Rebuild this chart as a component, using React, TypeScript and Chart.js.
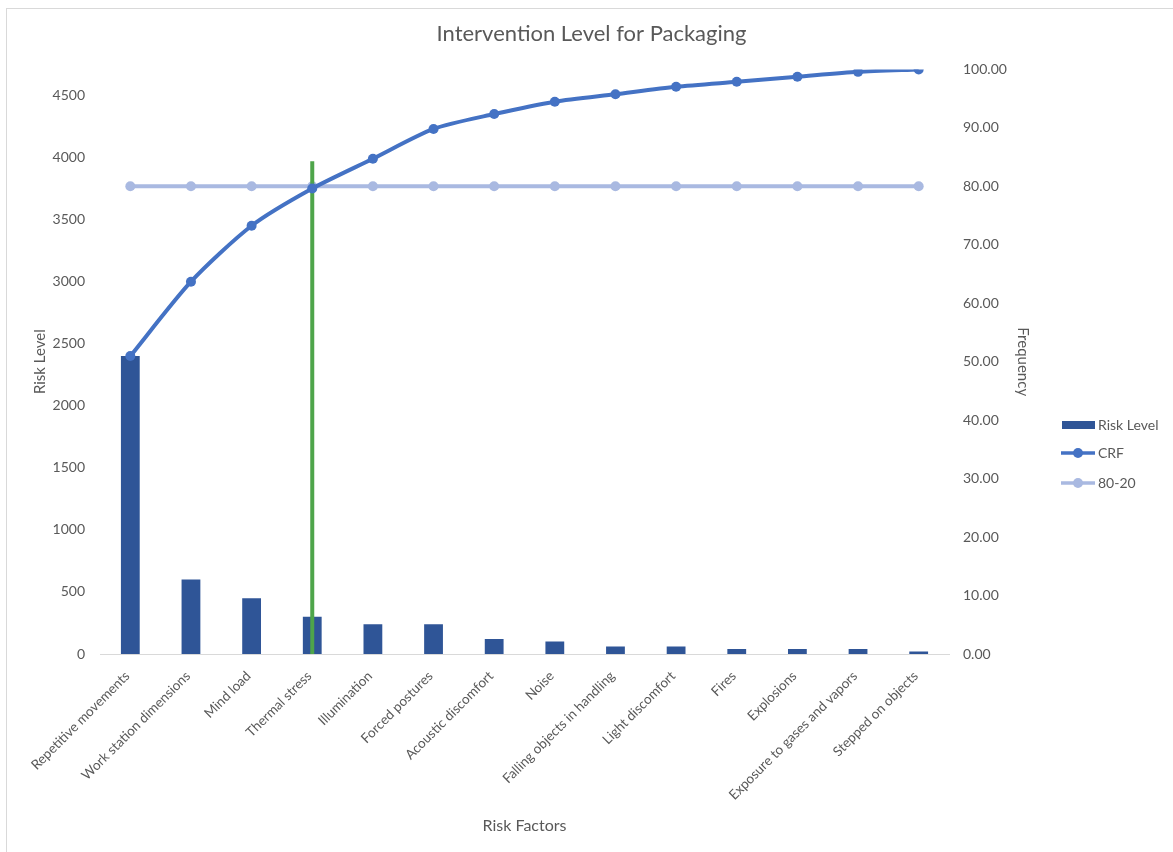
import React, { useEffect, useRef } from "react";
import { Chart, registerables } from "chart.js";

Chart.register(...registerables);

// Risk factors, sorted by risk level
const categories = [
  "Repetitive movements",
  "Work station dimensions",
  "Mind load",
  "Thermal stress",
  "Illumination",
  "Forced postures",
  "Acoustic discomfort",
  "Noise",
  "Falling objects in handling",
  "Light discomfort",
  "Fires",
  "Explosions",
  "Exposure to gases and vapors",
  "Stepped on objects",
];

const riskLevel = [2400, 600, 450, 300, 240, 240, 120, 100, 60, 60, 40, 40, 40, 20];

// Cumulative relative frequency (%)
const crf = [50.96, 63.69, 73.25, 79.62, 84.71, 89.81, 92.36, 94.48, 95.75, 97.03, 97.88, 98.73, 99.58, 100.0];

// 80-20 reference level (%)
const cutoff = [80, 80, 80, 80, 80, 80, 80, 80, 80, 80, 80, 80, 80, 80];

// Vertical marker at the 80% crossing
const markerCategory = "Thermal stress";
const markerTop = 3970;

// Left axis: total risk as the maximum, labelled every 500
const leftMax = 4710;
const leftTicks = [0, 500, 1000, 1500, 2000, 2500, 3000, 3500, 4000, 4500];
const rightMax = 100;
const rightStep = 10;

const FONT = "Lato, 'Open Sans', sans-serif";
const TEXT = "#595959";
const BAR = "#2F5597";
const CRF = "#4472C4";
const CUT = "#A9B9E1";
const GREEN = "#4EA54A";

const legendPlugin = {
  id: "sideLegend",
  afterDraw(chart: any) {
    const ctx = chart.ctx;
    const x0 = 1062;
    const items = [
      { label: "Risk Level", kind: "bar", color: BAR, y: 425 },
      { label: "CRF", kind: "line", color: CRF, y: 453 },
      { label: "80-20", kind: "line", color: CUT, y: 483 },
    ];
    ctx.save();
    ctx.font = `14px ${FONT}`;
    ctx.textBaseline = "middle";
    for (const it of items) {
      if (it.kind === "bar") {
        ctx.fillStyle = it.color;
        ctx.fillRect(x0, it.y - 4, 33, 8);
      } else {
        ctx.strokeStyle = it.color;
        ctx.lineWidth = 3.5;
        ctx.beginPath();
        ctx.moveTo(x0 - 1, it.y);
        ctx.lineTo(x0 + 33, it.y);
        ctx.stroke();
        ctx.fillStyle = it.color;
        ctx.beginPath();
        ctx.arc(x0 + 16, it.y, 5, 0, Math.PI * 2);
        ctx.fill();
      }
      ctx.fillStyle = TEXT;
      ctx.fillText(it.label, x0 + 36, it.y);
    }
    ctx.restore();
  },
};

export default function App() {
  const ref = useRef<HTMLCanvasElement | null>(null);

  useEffect(() => {
    if (!ref.current) return;
    const chart = new Chart(ref.current, {
      type: "bar",
      data: {
        labels: categories,
        datasets: [
          {
            type: "line",
            label: "CRF",
            data: crf,
            yAxisID: "y1",
            borderColor: CRF,
            backgroundColor: CRF,
            borderWidth: 4,
            tension: 0.25,
            pointRadius: 5,
            pointBorderWidth: 0,
            order: 1,
          } as any,
          {
            type: "line",
            label: "marker",
            data: [
              { x: markerCategory, y: 0 },
              { x: markerCategory, y: markerTop },
            ],
            yAxisID: "y",
            borderColor: GREEN,
            borderWidth: 4,
            pointRadius: 0,
            order: 2,
          } as any,
          {
            type: "line",
            label: "80-20",
            data: cutoff,
            yAxisID: "y1",
            borderColor: CUT,
            backgroundColor: CUT,
            borderWidth: 4,
            pointRadius: 5,
            pointBorderWidth: 0,
            order: 3,
          } as any,
          {
            type: "bar",
            label: "Risk Level",
            data: riskLevel,
            yAxisID: "y",
            backgroundColor: BAR,
            barPercentage: 0.31,
            categoryPercentage: 1,
            order: 5,
          } as any,
        ],
      },
      options: {
        animation: false,
        responsive: false,
        maintainAspectRatio: false,
        layout: { padding: { left: 10, right: 0, top: 0, bottom: 0 } },
        plugins: {
          legend: { display: false },
          tooltip: { enabled: false },
          title: {
            display: true,
            text: "Intervention Level for Packaging",
            color: TEXT,
            font: { family: FONT, size: 22, weight: "normal" },
            padding: { top: 21, bottom: 22 },
          },
        },
        scales: {
          x: {
            type: "category",
            offset: true,
            grid: { display: false, drawTicks: false },
            border: { display: true, color: "#D9D9D9", width: 1 },
            ticks: {
              color: TEXT,
              font: { family: FONT, size: 13.5 },
              minRotation: 45,
              maxRotation: 45,
              autoSkip: false,
              padding: 14,
              labelOffset: -3,
            },
            title: {
              display: true,
              text: "Risk Factors",
              color: TEXT,
              font: { family: FONT, size: 16 },
              padding: { top: 0, bottom: 17 },
            },
            afterFit(scale: any) {
              scale.height = 198;
            },
          },
          y: {
            type: "linear",
            position: "left",
            min: 0,
            max: leftMax,
            grid: { display: false, drawTicks: false },
            border: { display: false },
            ticks: {
              color: TEXT,
              font: { family: FONT, size: 14 },
              padding: 15,
              callback: (v: any) => String(v),
            },
            afterBuildTicks(scale: any) {
              scale.ticks = leftTicks.map((v) => ({ value: v }));
            },
            title: {
              display: true,
              text: "Risk Level",
              color: TEXT,
              font: { family: FONT, size: 15 },
              padding: { top: 21, bottom: 0 },
            },
            afterFit(scale: any) {
              scale.width = 90;
            },
          },
          y1: {
            type: "linear",
            position: "right",
            min: 0,
            max: rightMax,
            grid: { display: false, drawTicks: false },
            border: { display: false },
            ticks: {
              stepSize: rightStep,
              color: TEXT,
              font: { family: FONT, size: 14 },
              padding: 14,
              callback: (v: any) => Number(v).toFixed(2),
            },
            title: {
              display: true,
              text: "Frequency",
              color: TEXT,
              font: { family: FONT, size: 15 },
              padding: { top: 141, bottom: 0 },
            },
            afterFit(scale: any) {
              scale.width = 224;
            },
          },
        },
      } as any,
      plugins: [legendPlugin],
    });
    return () => chart.destroy();
  }, []);

  return (
    <div
      style={{
        position: "absolute",
        left: 0,
        top: 0,
        width: 1173,
        height: 852,
        background: "#fff",
        overflow: "hidden",
      }}
    >
      <div
        style={{
          position: "absolute",
          left: 6,
          top: 8,
          right: -2,
          bottom: -2,
          border: "1px solid #D9D9D9",
        }}
      />
      <canvas
        ref={ref}
        width={1173}
        height={852}
        style={{ position: "absolute", left: 0, top: 0, width: 1173, height: 852 }}
      />
    </div>
  );
}
